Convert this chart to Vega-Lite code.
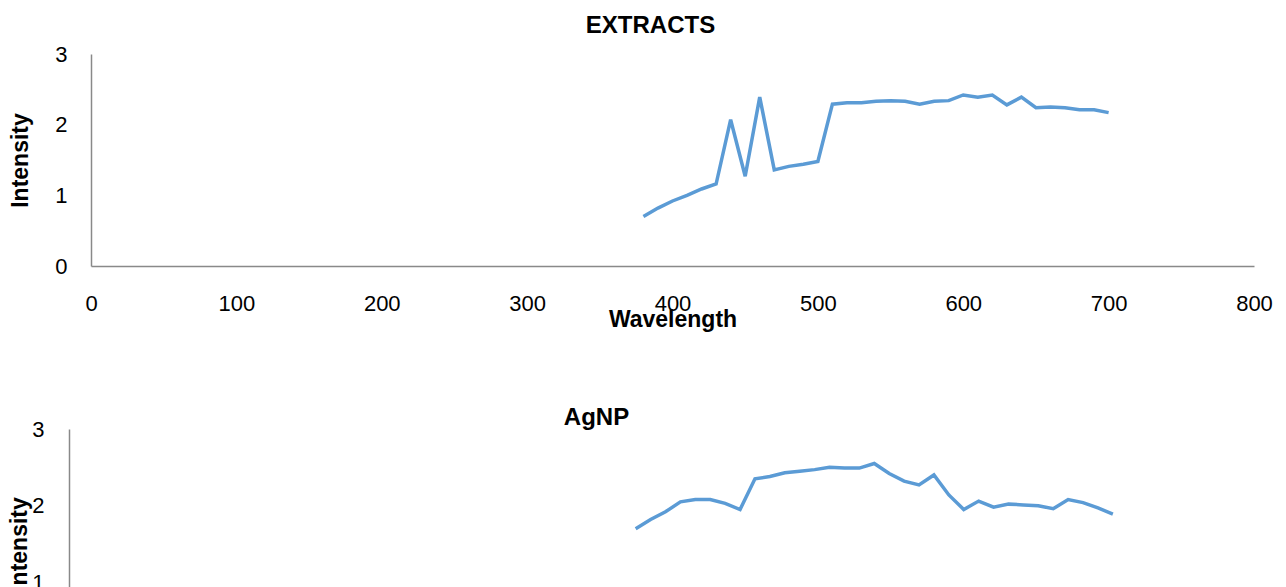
{
  "$schema": "https://vega.github.io/schema/vega-lite/v6.json",
  "padding": {"left": 8, "top": 14, "right": 0, "bottom": 0},
  "background": "white",
  "spacing": 75,
  "config": {
    "view": {"stroke": null},
    "axis": {
      "domainColor": "#898989",
      "domainWidth": 1.5,
      "ticks": false,
      "grid": false,
      "labelFlush": false,
      "labelFont": "Liberation Sans",
      "labelFontSize": 22,
      "labelColor": "#000000",
      "titleFont": "Liberation Sans",
      "titleFontSize": 23,
      "titleFontWeight": "bold",
      "titleColor": "#000000"
    },
    "title": {"font": "Liberation Sans", "fontSize": 24, "fontWeight": "bold", "color": "#000000"}
  },
  "datasets": {
    "extracts": [
      {"wavelength": 380, "intensity": 0.70},
      {"wavelength": 390, "intensity": 0.82},
      {"wavelength": 400, "intensity": 0.92},
      {"wavelength": 410, "intensity": 1.00},
      {"wavelength": 420, "intensity": 1.09},
      {"wavelength": 430, "intensity": 1.16},
      {"wavelength": 440, "intensity": 2.07},
      {"wavelength": 450, "intensity": 1.27},
      {"wavelength": 460, "intensity": 2.39},
      {"wavelength": 470, "intensity": 1.36},
      {"wavelength": 480, "intensity": 1.41},
      {"wavelength": 490, "intensity": 1.44},
      {"wavelength": 500, "intensity": 1.48},
      {"wavelength": 510, "intensity": 2.29},
      {"wavelength": 520, "intensity": 2.31},
      {"wavelength": 530, "intensity": 2.31},
      {"wavelength": 540, "intensity": 2.33},
      {"wavelength": 550, "intensity": 2.34},
      {"wavelength": 560, "intensity": 2.33},
      {"wavelength": 570, "intensity": 2.29},
      {"wavelength": 580, "intensity": 2.33},
      {"wavelength": 590, "intensity": 2.34},
      {"wavelength": 600, "intensity": 2.42},
      {"wavelength": 610, "intensity": 2.39},
      {"wavelength": 620, "intensity": 2.42},
      {"wavelength": 630, "intensity": 2.28},
      {"wavelength": 640, "intensity": 2.39},
      {"wavelength": 650, "intensity": 2.24},
      {"wavelength": 660, "intensity": 2.25},
      {"wavelength": 670, "intensity": 2.24},
      {"wavelength": 680, "intensity": 2.21},
      {"wavelength": 690, "intensity": 2.21},
      {"wavelength": 700, "intensity": 2.17}
    ],
    "agnp": [
      {"wavelength": 380, "intensity": 1.70},
      {"wavelength": 390, "intensity": 1.82},
      {"wavelength": 400, "intensity": 1.92},
      {"wavelength": 410, "intensity": 2.05},
      {"wavelength": 420, "intensity": 2.08},
      {"wavelength": 430, "intensity": 2.08},
      {"wavelength": 440, "intensity": 2.03},
      {"wavelength": 450, "intensity": 1.95},
      {"wavelength": 460, "intensity": 2.35},
      {"wavelength": 470, "intensity": 2.38},
      {"wavelength": 480, "intensity": 2.43},
      {"wavelength": 490, "intensity": 2.45},
      {"wavelength": 500, "intensity": 2.47},
      {"wavelength": 510, "intensity": 2.50},
      {"wavelength": 520, "intensity": 2.49},
      {"wavelength": 530, "intensity": 2.49},
      {"wavelength": 540, "intensity": 2.55},
      {"wavelength": 550, "intensity": 2.42},
      {"wavelength": 560, "intensity": 2.32},
      {"wavelength": 570, "intensity": 2.27},
      {"wavelength": 580, "intensity": 2.40},
      {"wavelength": 590, "intensity": 2.14},
      {"wavelength": 600, "intensity": 1.95},
      {"wavelength": 610, "intensity": 2.06},
      {"wavelength": 620, "intensity": 1.98},
      {"wavelength": 630, "intensity": 2.02},
      {"wavelength": 640, "intensity": 2.01},
      {"wavelength": 650, "intensity": 2.00},
      {"wavelength": 660, "intensity": 1.96},
      {"wavelength": 670, "intensity": 2.08},
      {"wavelength": 680, "intensity": 2.04},
      {"wavelength": 690, "intensity": 1.97},
      {"wavelength": 700, "intensity": 1.89}
    ]
  },
  "vconcat": [
    {
      "width": 1163,
      "height": 212,
      "title": {"text": "EXTRACTS", "dx": -22, "offset": 5},
      "data": {"name": "extracts"},
      "mark": {"type": "line", "color": "#5B9BD5", "strokeWidth": 3.5},
      "encoding": {
        "x": {
          "field": "wavelength",
          "type": "quantitative",
          "scale": {"domain": [0, 800], "nice": false, "zero": false},
          "axis": {
            "title": "Wavelength",
            "values": [0, 100, 200, 300, 400, 500, 600, 700, 800],
            "labelPadding": 27,
            "titlePadding": -6
          }
        },
        "y": {
          "field": "intensity",
          "type": "quantitative",
          "scale": {"domain": [0, 3], "nice": false},
          "axis": {
            "title": "Intensity",
            "values": [0, 1, 2, 3],
            "labelPadding": 24,
            "titlePadding": 22
          }
        }
      }
    },
    {
      "width": 1171,
      "height": 230,
      "title": {"text": "AgNP", "dx": -80, "offset": -12},
      "data": {"name": "agnp"},
      "mark": {"type": "line", "color": "#5B9BD5", "strokeWidth": 3.5},
      "encoding": {
        "x": {
          "field": "wavelength",
          "type": "quantitative",
          "scale": {"domain": [14.75, 800], "nice": false, "zero": false},
          "axis": {
            "title": "Wavelength",
            "values": [100, 200, 300, 400, 500, 600, 700, 800],
            "labelPadding": 27,
            "titlePadding": -6
          }
        },
        "y": {
          "field": "intensity",
          "type": "quantitative",
          "scale": {"domain": [0, 3], "nice": false},
          "axis": {
            "title": "Intensity",
            "values": [0, 1, 2, 3],
            "offset": 22,
            "labelPadding": 25,
            "titlePadding": 0
          }
        }
      }
    }
  ]
}
